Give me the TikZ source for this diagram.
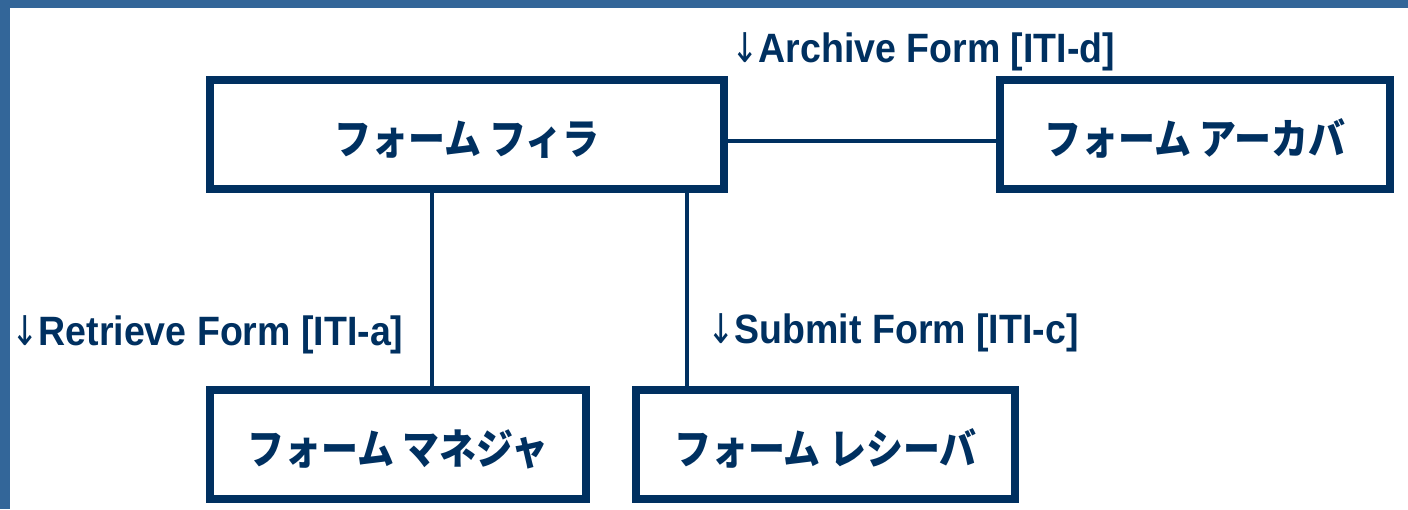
\documentclass[tikz,border=0pt]{standalone}
\usepackage{fontspec}
\setmainfont{Liberation Sans}[FakeStretch=0.915]
\newfontfamily\jpfont{Noto Sans CJK JP}[FakeStretch=0.88]
\newfontfamily\arrowfont{DejaVu Sans}[FakeStretch=0.8]
\newcommand{\darr}{{\arrowfont\mdseries ↓}}
\usepackage{xcolor}
\definecolor{navy}{HTML}{003060}
\definecolor{stripblue}{HTML}{336699}
\usetikzlibrary{positioning}
\tikzset{
  actorbox/.style={draw=navy, line width=8.5pt, minimum height=109pt, inner sep=0pt,
    text height=40pt, text depth=0pt, text=navy,
    font=\jpfont\bfseries\fontsize{42}{42}\selectfont},
  txlabel/.style={anchor=west, inner sep=0pt, text=navy,
    font=\bfseries\fontsize{41}{41}\selectfont},
  txline/.style={draw=navy, line width=3.5pt}
}

\begin{document}
\begin{tikzpicture}[x=1pt,y=-1pt]
    \useasboundingbox (0,0) rectangle (1408,509);
    % Frame strips
    \fill[stripblue] (0,0) rectangle (1408,8);
    \fill[stripblue] (0,0) rectangle (10,509);
    % Actors
    \node[actorbox, minimum width=514pt] (filler) at (467,134.5) {フォーム フィラ};
    \node[actorbox, minimum width=390pt] (archiver) at (1195,134.5) {フォーム アーカバ};
    \node[actorbox, minimum width=376pt] (manager) at (398,444.5) {フォーム マネジャ};
    \node[actorbox, minimum width=379pt] (receiver) at (825.5,444.5) {フォーム レシーバ};
    % Transactions
    \draw[txline] ([yshift=-6.5pt]filler.east) -- ([yshift=-6.5pt]archiver.west);
    \draw[txline] ([xshift=34pt]manager.north) -- ([xshift=34pt]manager.north |- filler.south);
    \draw[txline] ([xshift=-138.5pt]receiver.north) -- ([xshift=-138.5pt]receiver.north |- filler.south);
    % Transaction labels
    \node[txlabel] (archivetx) at (731,52) {\darr Archive Form [ITI-d]};
    \node[txlabel] (retrievetx) at (11,335) {\darr Retrieve Form [ITI-a]};
    \node[txlabel] (submittx) at (707,333) {\darr Submit Form [ITI-c]};
\end{tikzpicture}
\end{document}
